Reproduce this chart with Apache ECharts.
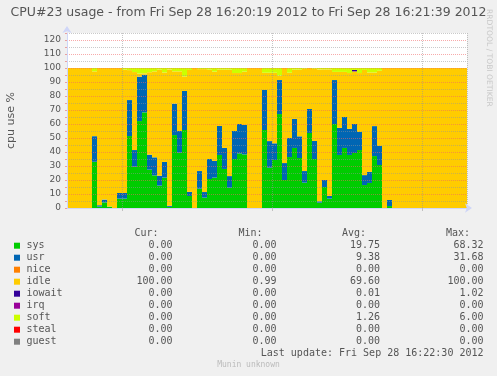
<!DOCTYPE html>
<html><head><meta charset="utf-8">
<script src="https://cdn.jsdelivr.net/npm/echarts@6/dist/echarts.min.js"></script>
<style>html,body{margin:0;padding:0;background:#F0F0F0;}#c{width:497px;height:376px;}</style>
</head><body><div id="c"></div>
<script>
const times = [
'16:20:20','16:20:21','16:20:22','16:20:23','16:20:24','16:20:25','16:20:26','16:20:27','16:20:28','16:20:29',
'16:20:30','16:20:31','16:20:32','16:20:33','16:20:34','16:20:35','16:20:36','16:20:37','16:20:38','16:20:39',
'16:20:40','16:20:41','16:20:42','16:20:43','16:20:44','16:20:45','16:20:46','16:20:47','16:20:48','16:20:49',
'16:20:50','16:20:51','16:20:52','16:20:53','16:20:54','16:20:55','16:20:56','16:20:57','16:20:58','16:20:59',
'16:21:00','16:21:01','16:21:02','16:21:03','16:21:04','16:21:05','16:21:06','16:21:07','16:21:08','16:21:09',
'16:21:10','16:21:11','16:21:12','16:21:13','16:21:14','16:21:15','16:21:16','16:21:17','16:21:18','16:21:19',
'16:21:20','16:21:21','16:21:22','16:21:23','16:21:24','16:21:25','16:21:26','16:21:27','16:21:28','16:21:29',
'16:21:30','16:21:31','16:21:32','16:21:33','16:21:34','16:21:35','16:21:36','16:21:37','16:21:38','16:21:39'];
const gridTimes = ['16:20:31','16:21:01','16:21:31'];

const sys = [0,0,0,0,0,33,1,4,1,0, 6.7,6.7,51.4,29.5,62.1,68.3,27.4,23.3,16,21.7,
 0.8,52.1,39.5,55.7,8.6,0,13.8,7.4,20.7,21.7, 37.9,27.9,14.5,35,39,38.3,0,0,0,55.7,
 28.8,34.3,67.1,20,36.4,42.9,35.7,18.1,53.6,35, 3.8,15,6.7,60,37.9,42.9,37.9,39.3,41.4,16.4,
 17.9,37.1,30.7,0,1.4,0,0,0,0,0, 0,0,0,0,0,0,0,0,0,0];
const usr = [0,0,0,0,0,18.3,1,2,0,0, 4,4,25.7,11.9,31.7,26.9,10.7,12.9,7.1,11.2,
 0.8,22.4,15.5,27.9,2.9,0,12.6,4,14.3,11.9, 20.7,15,8.3,20,21,21,0,0,0,28.6,
 19,11.9,24.3,12.1,13.6,20.7,15.5,8.3,17.1,12.9, 1,5,1.9,31.4,19.3,22.1,18.6,20.7,12.9,7.1,
 7.9,21.4,13.6,0,4.3,0,0,0,0,0, 0,0,0,0,0,0,0,0,0,0];
const nice = [0,0,0,0,0,0,0,0,0,0, 0,0,0,0,0,0,0,0,0,0, 0,0,0,0,0,0,0,0,0,0, 0,0,0,0,0,0,0,0,0,0,
 0,0,0,0,0,0,0,0,0,0, 0,0,0,0,0,0,0,0,0,0, 0,0,0,0,0,0,0,0,0,0, 0,0,0,0,0,0,0,0,0,0];
const idle = [100,100,100,100,100,46.3,98,94,99,100, 89.3,88.1,21.4,55.7,2.2,1.0,58.9,61.4,75.7,63.9,
 97.4,23.1,42.6,10.4,87.1,100,72.8,87.8,63.8,63.8, 40.2,55.9,76,41.4,36.4,38.1,100,100,100,12.3,
 48.8,50.4,3.1,67.9,46.6,35.2,47.6,73,29.3,51.5, 94.2,79,90.4,5.8,40,32.2,39.9,37.6,42.1,75.1,
 71,38.3,53.7,100,94.3,100,100,100,100,100, 100,100,100,100,100,100,100,100,100,100];
const iowait = [0,0,0,0,0,0,0,0,0,0, 0,0,0,0,0,0,0,0,0,0, 0,0,0,0,0,0,0,0,0,0, 0,0,0,0,0,0,0,0,0,0,
 0,0,0,0,0,0,0,0,0,0, 0,0,0,0,0,0,0,1.0,0,0, 0,0,0,0,0,0,0,0,0,0, 0,0,0,0,0,0,0,0,0,0];
const irq = nice.slice();
const soft = [0,0,0,0,0,2.4,0,0,0,0, 0,1.2,1.5,2.9,4,3.8,3,2.4,1.2,3.2,
 1,2.4,2.4,6,1.4,0,0.8,0.8,1.2,2.6, 1.2,1.2,1.2,3.6,3.6,2.6,0,0,0,3.4,
 3.4,3.4,5.5,0,3.4,1.2,1.2,0.6,0,0.6, 1,1,1,2.8,2.8,2.8,3.6,1.4,3.6,1.4,
 3.2,3.2,2,0,0,0,0,0,0,0, 0,0,0,0,0,0,0,0,0,0];
const steal = nice.slice();
const guest = nice.slice();

const seriesNames = ['sys','usr','nice','idle','iowait','irq','soft','steal','guest'];
const seriesColors = ['#00CC00','#0066B3','#FF8000','#FFCC00','#330099','#990099','#CCFF00','#FF0000','#808080'];
const seriesData = [sys, usr, nice, idle, iowait, irq, soft, steal, guest];
const curVals = ['0.00','0.00','0.00','100.00','0.00','0.00','0.00','0.00','0.00'];
const minVals = ['0.00','0.00','0.00','0.99','0.00','0.00','0.00','0.00','0.00'];
const avgVals = ['19.75','9.38','0.00','69.60','0.01','0.00','1.26','0.00','0.00'];
const maxVals = ['68.32','31.68','0.00','100.00','1.02','0.00','6.00','0.00','0.00'];
const colHeads = ['Cur:','Min:','Avg:','Max:'];

const TXT = '#555555';
const MONO = '"DejaVu Sans Mono", monospace';
const SANS = '"DejaVu Sans", sans-serif';

const graphic = [];
const headRight = [158.5, 262.5, 366, 470];
const valRight = [172.5, 276.5, 380, 483.5];
colHeads.forEach((h, k) => graphic.push({type:'text', x: headRight[k], y: 233.5,
  style:{text:h, font:'10px '+MONO, fill:TXT, textAlign:'right', textVerticalAlign:'middle'}}));
const cols = [curVals, minVals, avgVals, maxVals];
seriesNames.forEach((n, r) => {
  const y = 245.7 + r*12;
  graphic.push({type:'rect', shape:{x:14, y:y-3, width:6, height:6}, style:{fill:seriesColors[r]}});
  graphic.push({type:'text', x:26.5, y:y, style:{text:n, font:'10px '+MONO, fill:TXT, textVerticalAlign:'middle'}});
  cols.forEach((c, k) => graphic.push({type:'text', x: valRight[k], y:y,
    style:{text:c[r], font:'10px '+MONO, fill:TXT, textAlign:'right', textVerticalAlign:'middle'}}));
});
graphic.push({type:'text', x:483.5, y:353.7, style:{text:'Last update: Fri Sep 28 16:22:30 2012', font:'10px '+MONO, fill:TXT, textAlign:'right', textVerticalAlign:'middle'}});
graphic.push({type:'text', x:248.5, y:365, style:{text:'Munin unknown', font:'8px '+MONO, fill:'#BBBBBB', textAlign:'center', textVerticalAlign:'middle'}});
graphic.push({type:'text', x:489, y:9, rotation:-Math.PI/2, style:{text:'RRDTOOL / TOBI OETIKER', font:'7.6px '+SANS, fill:'#C8C8C8', textAlign:'left', textVerticalAlign:'middle'}});

const chart = echarts.init(document.getElementById('c'), null, {renderer:'canvas'});
chart.setOption({
  backgroundColor:'#F0F0F0',
  animation:false,
  title:{text:'CPU#23 usage - from Fri Sep 28 16:20:19 2012 to Fri Sep 28 16:21:39 2012',
    left:'center', top:6, padding:0,
    textStyle:{fontSize:12.5, fontWeight:'normal', color:TXT, fontFamily:SANS}},
  grid:{left:67, top:33, width:400, height:175, backgroundColor:'#FFFFFF', show:true, borderWidth:0,
    containLabel:false, outerBoundsMode:'none'},
  xAxis:{type:'category', data:times, boundaryGap:true, z:5,
    axisLine:{show:true, lineStyle:{color:'#CFD6F8', width:1}, symbol:['none','arrow'], symbolSize:[7,7], symbolOffset:[0,5]},
    axisTick:{show:true, length:3, interval:(i,v)=>gridTimes.includes(v), lineStyle:{color:'#C0C0C0'}},
    axisLabel:{show:false},
    splitLine:{show:true, interval:(i,v)=>gridTimes.includes(v), lineStyle:{color:'rgba(150,150,150,0.55)', type:[1,1], width:1}}},
  yAxis:{type:'value', min:0, max:125, interval:5, z:5,
    name:'cpu use %', nameLocation:'middle', nameGap:50, nameRotate:90,
    nameTextStyle:{fontSize:11, color:TXT, fontFamily:SANS},
    axisLine:{show:true, lineStyle:{color:'#CFD6F8', width:1}, symbol:['none','arrow'], symbolSize:[7,7], symbolOffset:[0,7]},
    axisTick:{show:true, length:2, lineStyle:{color:'#E8A0A0'}},
    axisLabel:{fontSize:9, color:TXT, fontFamily:SANS, margin:6,
      formatter:(v)=> (v % 10 === 0 && v <= 120) ? String(v) : ''},
    splitLine:{show:true, lineStyle:{color:['rgba(240,100,100,0.55)','rgba(150,150,150,0.5)'], type:[1,1], width:1}}},
  series: seriesNames.map((n, k) => ({
    name:n, type:'bar', stack:'cpu', data:seriesData[k], barCategoryGap:'0%', barGap:'0%',
    itemStyle:{color:seriesColors[k]}, emphasis:{disabled:true}, silent:true
  })),
  graphic: graphic
});
</script></body></html>
